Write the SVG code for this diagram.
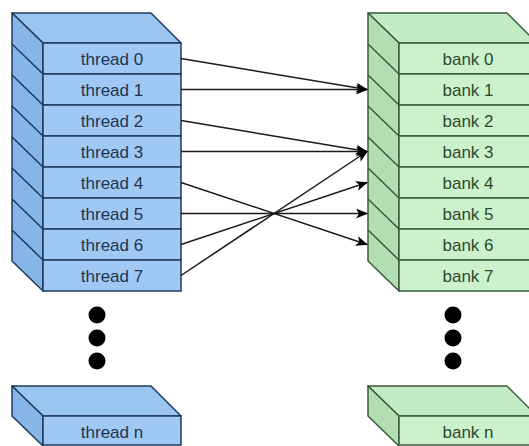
<svg xmlns="http://www.w3.org/2000/svg" width="529" height="446" viewBox="0 0 529 446">
<defs>
<style>
.bf{fill:#a0c8f4;stroke:#1e3a5c;stroke-width:1.5}
.bt{fill:#9ac5f1;stroke:#1e3a5c;stroke-width:1.5;stroke-linejoin:round}
.bs{fill:#86b5e8;stroke:#1e3a5c;stroke-width:1.5;stroke-linejoin:round}
.bl{stroke:#1e3a5c;stroke-width:1.5;fill:none}
.gf{fill:#ccf2cc;stroke:#3b5a3b;stroke-width:1.5}
.gt{fill:#c4ecc4;stroke:#3b5a3b;stroke-width:1.5;stroke-linejoin:round}
.gs{fill:#b2deb2;stroke:#3b5a3b;stroke-width:1.5;stroke-linejoin:round}
.gl{stroke:#3b5a3b;stroke-width:1.5;fill:none}
.tt{font-family:"Liberation Sans",Arial,sans-serif;font-size:17px;fill:#1f3550;text-anchor:middle}
.gtx{font-family:"Liberation Sans",Arial,sans-serif;font-size:17px;fill:#2e4a30;text-anchor:middle}
.ar{stroke:#1a1a1a;stroke-width:1.5;fill:none;marker-end:url(#ah)}
.dot{fill:#000}
</style>
<marker id="ah" viewBox="0 0 12 10" refX="11" refY="5" markerWidth="12" markerHeight="10" markerUnits="userSpaceOnUse" orient="auto">
<path d="M0,0 L12,5 L0,10 L3,5 Z" fill="#000"/>
</marker>
</defs>

<g id="threads">
<polygon class="bt" points="12,13 151,13 181,43 43,43"/>
<polygon class="bs" points="12,13 43,43 43,291 12,261"/>
<path class="bl" d="M12,44 L43,74 M12,75 L43,105 M12,106 L43,136 M12,137 L43,167 M12,168 L43,198 M12,199 L43,229 M12,230 L43,260"/>
<g id="thread0"><rect class="bf" x="43" y="43" width="138" height="31"/><text class="tt" x="112" y="65">thread 0</text></g>
<g id="thread1"><rect class="bf" x="43" y="74" width="138" height="31"/><text class="tt" x="112" y="96">thread 1</text></g>
<g id="thread2"><rect class="bf" x="43" y="105" width="138" height="31"/><text class="tt" x="112" y="127">thread 2</text></g>
<g id="thread3"><rect class="bf" x="43" y="136" width="138" height="31"/><text class="tt" x="112" y="158">thread 3</text></g>
<g id="thread4"><rect class="bf" x="43" y="167" width="138" height="31"/><text class="tt" x="112" y="189">thread 4</text></g>
<g id="thread5"><rect class="bf" x="43" y="198" width="138" height="31"/><text class="tt" x="112" y="220">thread 5</text></g>
<g id="thread6"><rect class="bf" x="43" y="229" width="138" height="31"/><text class="tt" x="112" y="251">thread 6</text></g>
<g id="thread7"><rect class="bf" x="43" y="260" width="138" height="31"/><text class="tt" x="112" y="282">thread 7</text></g>
</g>

<g id="threadDots">
<circle class="dot" cx="97" cy="315" r="8.5"/>
<circle class="dot" cx="97" cy="338" r="8.5"/>
<circle class="dot" cx="97" cy="361" r="8.5"/>
</g>

<g id="threadN">
<polygon class="bt" points="12,386 151,386 181,416 43,416"/>
<polygon class="bs" points="12,386 43,416 43,446 12,416"/>
<rect class="bf" x="43" y="416" width="138" height="29"/>
<text class="tt" x="112" y="438">thread n</text>
</g>

<g id="banks">
<polygon class="gt" points="368,13 507,13 537,43 399,43"/>
<polygon class="gs" points="368,13 399,43 399,291 368,261"/>
<path class="gl" d="M368,44 L399,74 M368,75 L399,105 M368,106 L399,136 M368,137 L399,167 M368,168 L399,198 M368,199 L399,229 M368,230 L399,260"/>
<g id="bank0"><rect class="gf" x="399" y="43" width="138" height="31"/><text class="gtx" x="468" y="65">bank 0</text></g>
<g id="bank1"><rect class="gf" x="399" y="74" width="138" height="31"/><text class="gtx" x="468" y="96">bank 1</text></g>
<g id="bank2"><rect class="gf" x="399" y="105" width="138" height="31"/><text class="gtx" x="468" y="127">bank 2</text></g>
<g id="bank3"><rect class="gf" x="399" y="136" width="138" height="31"/><text class="gtx" x="468" y="158">bank 3</text></g>
<g id="bank4"><rect class="gf" x="399" y="167" width="138" height="31"/><text class="gtx" x="468" y="189">bank 4</text></g>
<g id="bank5"><rect class="gf" x="399" y="198" width="138" height="31"/><text class="gtx" x="468" y="220">bank 5</text></g>
<g id="bank6"><rect class="gf" x="399" y="229" width="138" height="31"/><text class="gtx" x="468" y="251">bank 6</text></g>
<g id="bank7"><rect class="gf" x="399" y="260" width="138" height="31"/><text class="gtx" x="468" y="282">bank 7</text></g>
</g>

<g id="bankDots">
<circle class="dot" cx="453" cy="315" r="8.5"/>
<circle class="dot" cx="453" cy="338" r="8.5"/>
<circle class="dot" cx="453" cy="361" r="8.5"/>
</g>

<g id="bankN">
<polygon class="gt" points="368,386 507,386 537,416 399,416"/>
<polygon class="gs" points="368,386 399,416 399,446 368,416"/>
<rect class="gf" x="399" y="416" width="138" height="29"/>
<text class="gtx" x="468" y="438">bank n</text>
</g>

<g id="connectors">
<line class="ar" x1="181" y1="58.5" x2="367" y2="89.5"/>
<line class="ar" x1="181" y1="89.5" x2="367" y2="89.5"/>
<line class="ar" x1="181" y1="120.5" x2="367" y2="151.5"/>
<line class="ar" x1="181" y1="151.5" x2="367" y2="151.5"/>
<line class="ar" x1="181" y1="182.5" x2="367" y2="244.5"/>
<line class="ar" x1="181" y1="213.5" x2="367" y2="213.5"/>
<line class="ar" x1="181" y1="244.5" x2="367" y2="182.5"/>
<line class="ar" x1="181" y1="275.5" x2="367" y2="151.5"/>
</g>
</svg>
